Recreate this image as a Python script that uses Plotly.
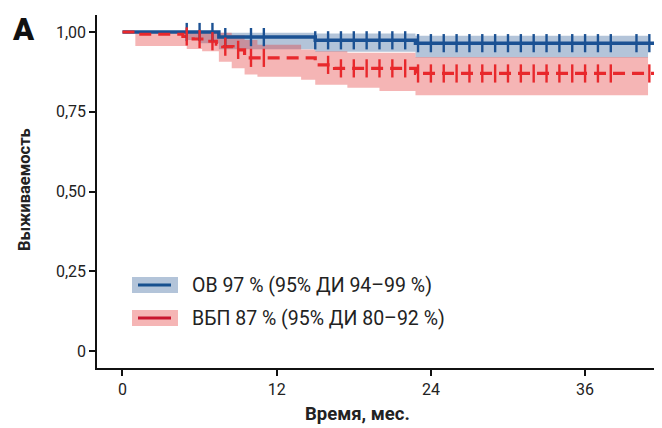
import plotly.graph_objects as go

# ---- data ----
os_t = [0, 7.5, 15, 22.8, 41.4]
os_s = [1.0, 0.984, 0.974, 0.965, 0.965]
os_censor = [5, 6, 7, 8, 10, 11, 15, 16, 17, 18, 19, 20, 21, 22, 23, 24, 25, 26, 27, 28,
             29, 30, 31, 32, 33, 34, 35, 36, 37, 38, 40, 41]
os_band_t = [5, 6, 7.5, 15, 22.8, 40.9]
os_band_lo = [0.975, 0.965, 0.946, 0.938, 0.92, 0.92]
os_band_hi = [1.0, 1.0, 0.998, 0.995, 0.988, 0.988]

pfs_t = [0, 1, 4.7, 5.5, 6.5, 7.3, 7.8, 8.6, 9.5, 15, 16.5, 22.8, 41.4]
pfs_s = [1.0, 0.993, 0.986, 0.978, 0.971, 0.962, 0.954, 0.944, 0.919, 0.897, 0.886, 0.870, 0.870]
pfs_censor = [5, 6, 7, 8, 9, 10, 11, 16, 17, 18, 19, 20, 21, 22, 23, 24, 25, 26, 27, 28,
              29, 30, 31, 32, 33, 34, 35, 36, 37, 38, 41]
pfs_band_t = [1, 5, 6.2, 7.5, 8.5, 9.5, 10.5, 13.9, 15, 17.5, 20, 22.8, 40.9]
pfs_band_lo = [0.956, 0.947, 0.94, 0.907, 0.886, 0.867, 0.86, 0.85, 0.835, 0.825, 0.815, 0.802, 0.802]
pfs_band_hi = [1.0, 1.0, 1.0, 0.998, 0.99, 0.975, 0.96, 0.945, 0.94, 0.935, 0.935, 0.922, 0.922]

legend_labels = ["ОВ 97 % (95% ДИ 94–99 %)", "ВБП 87 % (95% ДИ 80–92 %)"]
x_ticks = [0, 12, 24, 36]
x_ticktext = ["0", "12", "24", "36"]
y_ticks = [0, 0.25, 0.5, 0.75, 1.0]
y_ticktext = ["0", "0,25", "0,50", "0,75", "1,00"]

BLUE = "#1b5193"
RED = "#e8282c"
BLUE_FILL = "rgba(54,100,155,0.38)"
RED_FILL = "rgba(228,60,60,0.38)"
FONT = "Roboto"


def step_at(ts, vs, t):
    v = vs[0]
    for ti, vi in zip(ts, vs):
        if ti <= t:
            v = vi
    return v


fig = go.Figure()

# bands
for bt, lo, hi, fc in [(os_band_t, os_band_lo, os_band_hi, BLUE_FILL),
                       (pfs_band_t, pfs_band_lo, pfs_band_hi, RED_FILL)]:
    fig.add_trace(go.Scatter(x=bt, y=lo, mode="lines", line=dict(width=0, shape="hv"),
                             showlegend=False, hoverinfo="skip"))
    fig.add_trace(go.Scatter(x=bt, y=hi, mode="lines", line=dict(width=0, shape="hv"),
                             fill="tonexty", fillcolor=fc, showlegend=False, hoverinfo="skip"))

# curves
fig.add_trace(go.Scatter(x=os_t, y=os_s, mode="lines",
                         line=dict(color=BLUE, width=3.5, shape="hv"), showlegend=False))
fig.add_trace(go.Scatter(x=pfs_t, y=pfs_s, mode="lines",
                         line=dict(color=RED, width=3.2, shape="hv", dash="12px,7px"),
                         showlegend=False))

# censor marks
fig.add_trace(go.Scatter(x=os_censor, y=[step_at(os_t, os_s, t) for t in os_censor],
                         mode="markers",
                         marker=dict(symbol="line-ns-open", size=13, color=BLUE,
                                     line=dict(color=BLUE, width=2.4)),
                         showlegend=False))
fig.add_trace(go.Scatter(x=pfs_censor, y=[step_at(pfs_t, pfs_s, t) for t in pfs_censor],
                         mode="markers",
                         marker=dict(symbol="line-ns-open", size=13, color=RED,
                                     line=dict(color=RED, width=2.4)),
                         showlegend=False))

# geometry (page has an 8px body offset)
OFF = 8
W, H = 662, 428
L, T = 97 - OFF, 15 - OFF
R = W - (660 - OFF)
B = H - (368 - OFF)
pw, ph = W - L - R, H - T - B


def px(x):
    return (x - OFF - L) / pw


def py(y):
    return (H - B - (y - OFF)) / ph


shapes = []
annotations = []
for i, (lab, fc, lc) in enumerate(zip(legend_labels, [BLUE_FILL, RED_FILL], ["#17508f", "#c8142e"])):
    cy = 285 + i * 33
    shapes.append(dict(type="rect", xref="paper", yref="paper",
                       x0=px(132), x1=px(178), y0=py(cy + 8), y1=py(cy - 8),
                       fillcolor=fc, line=dict(width=0)))
    shapes.append(dict(type="line", xref="paper", yref="paper",
                       x0=px(138), x1=px(171), y0=py(cy), y1=py(cy),
                       line=dict(color=lc, width=3)))
    annotations.append(dict(xref="paper", yref="paper", x=px(190), y=py(cy),
                            xanchor="left", yanchor="middle", showarrow=False,
                            text=lab, font=dict(family=FONT, size=19.5, color="#222")))

annotations.append(dict(xref="paper", yref="paper", x=px(357), y=py(414),
                        xanchor="center", yanchor="middle", showarrow=False,
                        text="<b>Время, мес.</b>", font=dict(family=FONT, size=18.5, color="#222")))
annotations.append(dict(xref="paper", yref="paper", x=px(24), y=py(190),
                        xanchor="center", yanchor="middle", showarrow=False, textangle=-90,
                        text="<b>Выживаемость</b>", font=dict(family=FONT, size=16.5, color="#222")))
annotations.append(dict(xref="paper", yref="paper", x=px(23), y=py(29),
                        xanchor="center", yanchor="middle", showarrow=False,
                        text="A", font=dict(family=FONT, size=31, color="#111", weight=900)))

fig.update_layout(
    width=W, height=H,
    margin=dict(l=L, r=R, t=T, b=B),
    plot_bgcolor="white", paper_bgcolor="white",
    shapes=shapes, annotations=annotations,
    showlegend=False,
    xaxis=dict(range=[-1.984, 41.83], tickvals=x_ticks, ticktext=x_ticktext,
               showgrid=False, zeroline=False, showline=True, linecolor="#111", linewidth=1.5,
               ticks="outside", ticklen=6, tickwidth=1.5, tickcolor="#111",
               tickfont=dict(family=FONT, size=16, color="#222")),
    yaxis=dict(range=[-0.0533, 1.0533], tickvals=y_ticks, ticktext=y_ticktext,
               showgrid=False, zeroline=False, showline=True, linecolor="#111", linewidth=1.5,
               ticks="outside", ticklen=6, tickwidth=1.5, tickcolor="#111",
               tickfont=dict(family=FONT, size=16, color="#222")),
)

fig.write_html("out.html")
